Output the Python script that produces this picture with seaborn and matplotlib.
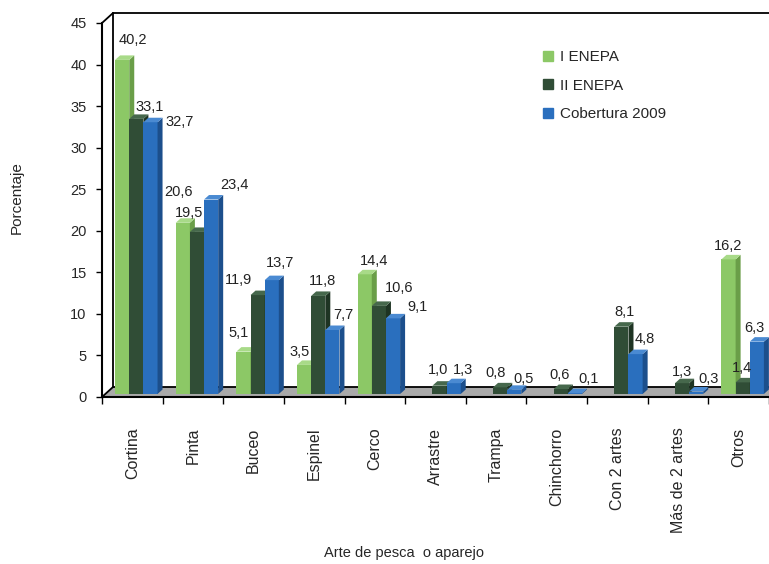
import numpy as np
import pandas as pd
import matplotlib
matplotlib.use('Agg')
import matplotlib.pyplot as plt
import seaborn as sns
from matplotlib.patches import Polygon
from matplotlib.lines import Line2D

# data (percent); I ENEPA has no value for 5 gears
categories = ['Cortina', 'Pinta', 'Buceo', 'Espinel', 'Cerco', 'Arrastre', 'Trampa',
              'Chinchorro', 'Con 2 artes', 'Más de 2 artes', 'Otros']
series = ['I ENEPA', 'II ENEPA', 'Cobertura 2009']
i_enepa = [40.2, 20.6, 5.1, 3.5, 14.4, np.nan, np.nan, np.nan, np.nan, np.nan, 16.2]
ii_enepa = [33.1, 19.5, 11.9, 11.8, 10.6, 1.0, 0.8, 0.6, 8.1, 1.3, 1.4]
cobertura = [32.7, 23.4, 13.7, 7.7, 9.1, 1.3, 0.5, 0.1, 4.8, 0.3, 6.3]
yticks = list(range(0, 46, 5))

# styling
front = ['#8CC866', '#304D36', '#2A6FBE']
side = ['#6A9E48', '#1E3423', '#1C4F8C']
top = ['#A8DA88', '#46684C', '#4A8AD2']
# label offsets in pixels from the bar top (mimic Excel's 3D label placement)
label_off = [
    [(15, 23), (0, 34), (-1, 22), (0, 16), (13, 16), None, None, None, None, None, (4, 16)],
    [(17, 15), (-4, 22), (-15, 18), (8, 18), (24, 21), (3, 19), (-1, 17), (3, 17), (7, 18), (4, 14), (3, 17)],
    [(33, 3), (27, 18), (12, 20), (15, 18), (28, 14), (13, 16), (13, 14), (18, 17), (13, 18), (16, 16), (2, 17)],
]

df = pd.DataFrame({
    'Arte': categories * 3,
    'Serie': np.repeat(series, len(categories)),
    'Porcentaje': i_enepa + ii_enepa + cobertura,
})

sns.set_theme(style='white')
plt.rcParams['font.family'] = ['Liberation Sans', 'DejaVu Sans']

fig = plt.figure(figsize=(7.69, 5.64), dpi=100)
ax = fig.add_axes([102 / 769, 167 / 564, 667 / 769, 374 / 564])
ax.patch.set_alpha(0)

sns.barplot(data=df, x='Arte', y='Porcentaje', hue='Serie', order=categories,
            hue_order=series, palette=front, saturation=1, width=0.7,
            errorbar=None, legend=False, ax=ax, edgecolor='none', linewidth=0)
ax.set_xlim(-0.5, 10.5)
ax.set_ylim(0, 45)

# pixel -> data scale
p0 = ax.transData.transform((0, 0))
p1 = ax.transData.transform((1, 1))
ppx, ppy = p1[0] - p0[0], p1[1] - p0[1]
wall_dx, wall_dy = 11 / ppx, 10 / ppy
bar_dx, bar_dy = 5 / ppx, 4.5 / ppy
shift_x, shift_y = 4 / ppx, 3 / ppy

# back wall and floor
x0, x1 = -0.5, 10.5
floor = Polygon([(x0, 0), (x1, 0), (x1 + wall_dx, wall_dy), (x0 + wall_dx, wall_dy)],
                closed=True, facecolor='#A9A9A9', edgecolor='none', zorder=1, clip_on=False)
ax.add_patch(floor)
lk = dict(color='black', lw=1.3, clip_on=False, zorder=2)
ax.plot([x0 + wall_dx, x1 + wall_dx], [45 + wall_dy, 45 + wall_dy], **lk)
ax.plot([x0 + wall_dx, x0 + wall_dx], [wall_dy, 45 + wall_dy], **lk)
ax.plot([x0, x0 + wall_dx], [45, 45 + wall_dy], **lk)
ax.plot([x0, x0 + wall_dx], [0, wall_dy], **lk)
ax.plot([x0 + wall_dx, x1 + wall_dx], [wall_dy, wall_dy], **lk)

# 3D look for the bars + value labels
for k, cont in enumerate(ax.containers):
    for bar in cont:
        h = bar.get_height()
        if not np.isfinite(h) or h <= 0:
            continue
        w = bar.get_width()
        xc = bar.get_x() + w / 2
        i = int(round(xc))
        z = 5 + xc
        bar.set_x(bar.get_x() + shift_x)
        bar.set_y(shift_y)
        bar.set_zorder(z)
        bar.set_linewidth(0)
        bx0, bx1 = bar.get_x(), bar.get_x() + w
        by0, by1 = shift_y, shift_y + h
        ax.add_patch(Polygon([(bx1, by0), (bx1 + bar_dx, by0 + bar_dy),
                              (bx1 + bar_dx, by1 + bar_dy), (bx1, by1)],
                             closed=True, facecolor=side[k], edgecolor='none', zorder=z))
        ax.add_patch(Polygon([(bx0, by1), (bx1, by1), (bx1 + bar_dx, by1 + bar_dy),
                              (bx0 + bar_dx, by1 + bar_dy)],
                             closed=True, facecolor=top[k], edgecolor='none', zorder=z))
        off = label_off[k][i]
        if off is not None:
            ax.annotate(f'{h:.1f}'.replace('.', ','), (xc, h), xytext=off,
                        textcoords='offset pixels', ha='center', va='center',
                        fontsize=10.5, color='#222222', zorder=30, annotation_clip=False)

# axes styling
for s in ['top', 'right']:
    ax.spines[s].set_visible(False)
for s in ['left', 'bottom']:
    ax.spines[s].set_color('black')
    ax.spines[s].set_linewidth(1.5)
    ax.spines[s].set_zorder(3)
ax.set_yticks(yticks)
ax.set_xticks(range(len(categories)))
ax.set_xticklabels(categories, rotation=90, fontsize=11.5)
ax.set_xticks(np.arange(-0.5, len(categories), 1), minor=True)
ax.tick_params(axis='x', which='major', length=0, pad=22, bottom=True)
ax.tick_params(axis='x', which='minor', length=5, width=1, color='black', bottom=True, direction='out')
ax.tick_params(axis='y', length=4, width=1, color='black', left=True, direction='out', pad=7, labelsize=10.5)
ax.set_xlabel('')
ax.set_ylabel('')

fig.text(404 / 769, 1 - 553 / 564, 'Arte de pesca  o aparejo', ha='center', va='center', fontsize=10.5)
fig.text(17 / 769, 1 - 198 / 564, 'Porcentaje', ha='center', va='center', rotation=90, fontsize=11)

handles = [Line2D([], [], marker='s', linestyle='none', markersize=7, color=c) for c in front]
fig.legend(handles, series, loc='upper left', bbox_to_anchor=(540 / 769, 1 - 50 / 564),
           frameon=False, fontsize=11, handletextpad=0.3, labelspacing=0.95,
           borderpad=0, borderaxespad=0, handlelength=1)

fig.savefig('out.png', dpi=100)
